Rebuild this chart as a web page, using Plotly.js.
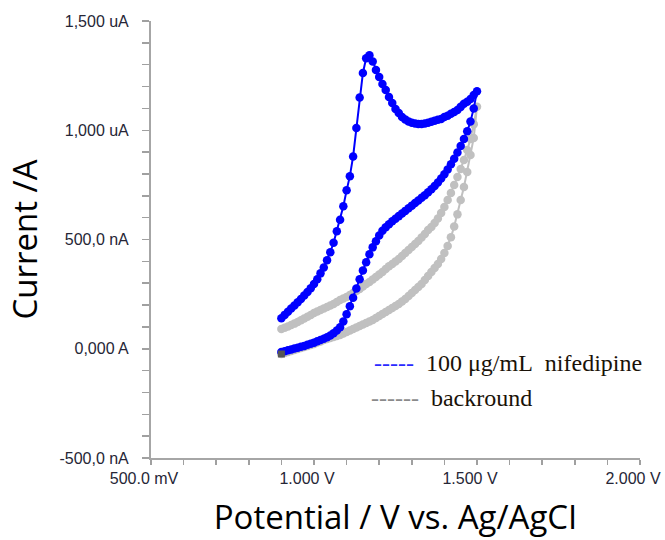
<!DOCTYPE html>
<html>
<head>
<meta charset="utf-8">
<script src="https://cdn.plot.ly/plotly-3.0.1.min.js"></script>
<style>
  html, body { margin: 0; padding: 0; background: #ffffff; }
  #chart { width: 665px; height: 540px; }
</style>
</head>
<body>
<div id="chart"></div>
<script>
// Potentials (V) – forward scan 0.90 -> 1.50 and reverse scan 1.49 -> 0.90
const potentialForward = [0.90,0.91,0.92,0.93,0.94,0.95,0.96,0.97,0.98,0.99,
  1.00,1.01,1.02,1.03,1.04,1.05,1.06,1.07,1.08,1.09,
  1.10,1.11,1.12,1.13,1.14,1.15,1.16,1.17,1.18,1.19,
  1.20,1.21,1.22,1.23,1.24,1.25,1.26,1.27,1.28,1.29,
  1.30,1.31,1.32,1.33,1.34,1.35,1.36,1.37,1.38,1.39,
  1.40,1.41,1.42,1.43,1.44,1.45,1.46,1.47,1.48,1.49,1.50];
const potentialReverse = [1.49,1.48,1.47,1.46,1.45,1.44,1.43,1.42,1.41,1.40,
  1.39,1.38,1.37,1.36,1.35,1.34,1.33,1.32,1.31,1.30,
  1.29,1.28,1.27,1.26,1.25,1.24,1.23,1.22,1.21,1.20,
  1.19,1.18,1.17,1.16,1.15,1.14,1.13,1.12,1.11,1.10,
  1.09,1.08,1.07,1.06,1.05,1.04,1.03,1.02,1.01,1.00,
  0.99,0.98,0.97,0.96,0.95,0.94,0.93,0.92,0.91,0.90];

// 100 µg/mL nifedipine (current, axis units)
const nifedipineForward = [140,155,169,184,198,213,228,244,260,277,
  296,318,345,372,405,442,485,538,590,652,
  725,790,880,1010,1150,1262,1330,1343,1315,1276,
  1244,1212,1184,1152,1125,1097,1079,1061,1049,1040,
  1034,1031,1029,1029,1031,1034,1039,1043,1048,1052,
  1061,1066,1075,1084,1093,1107,1121,1130,1143,1161,1178];
const nifedipineReverse = [1100,1040,995,960,928,898,870,844,820,799,
  779,761,745,730,716,703,691,679,667,655,
  643,631,619,607,595,583,570,556,540,518,
  492,464,432,396,358,318,276,233,195,158,
  125,98,83,71,61,53,46,40,34,28,
  23,18,13,9,5,1,-3,-7,-11,-15];

// background
const backgroundForward = [90,96,102,109,115,122,130,138,146,154,
  164,170,177,184,191,198,205,214,223,230,
  237,246,255,264,273,285,296,306,317,328,
  340,351,365,378,388,399,411,424,438,452,
  466,479,493,509,525,544,557,576,596,621,
  649,681,713,749,786,823,864,910,960,1028,1108];
const backgroundReverse = [965,887,809,740,681,615,560,510,470,438,
  411,388,370,351,333,315,296,283,269,255,
  241,228,216,205,196,187,177,168,159,150,
  141,132,125,118,111,104,97,90,84,77,
  70,63,58,54,49,45,40,33,29,22,
  17,13,8,3,-1,-6,-10,-15,-19,-24];

// axis ticks
const xTickVals = [0.5,0.6,0.7,0.8,0.9,1.0,1.1,1.2,1.3,1.4,1.5,1.6,1.7,1.8,1.9,2.0];
const xTickText = ['500.0 mV','','','','','1.000 V','','','','','1.500 V','','','','','2.000 V'];
const yTickVals = [-500,-400,-300,-200,-100,0,100,200,300,400,500,600,700,800,900,1000,1100,1200,1300,1400,1500];
const yTickText = ['-500,0 nA','','','','','0,000 A','','','','','500,0 nA','','','','','1,000 uA','','','','','1,500 uA'];

const seriesNames = ['100 \u03bcg/mL\u00a0\u00a0nifedipine', 'backround'];

const allPotential = potentialForward.concat(potentialReverse);

const bgTrace = {
  x: allPotential,
  y: backgroundForward.concat(backgroundReverse),
  mode: 'lines+markers',
  name: seriesNames[1],
  line: { color: '#c0c0c0', width: 2 },
  marker: { color: '#c0c0c0', size: 8.5, symbol: 'circle' },
  showlegend: false
};
const nifTrace = {
  x: allPotential,
  y: nifedipineForward.concat(nifedipineReverse),
  mode: 'lines+markers',
  name: seriesNames[0],
  line: { color: '#0000ff', width: 2 },
  marker: { color: '#0000ff', size: 8.5, symbol: 'circle' },
  showlegend: false
};
// end-of-scan marker (last background point)
const endTrace = {
  x: [potentialReverse[potentialReverse.length - 1]],
  y: [backgroundReverse[backgroundReverse.length - 1]],
  mode: 'markers',
  marker: { color: '#555555', size: 7, symbol: 'square' },
  showlegend: false
};

const tickFont = { family: 'Liberation Sans, Arial, sans-serif', size: 16, color: '#262636' };
const titleFont = { family: 'Open Sans, sans-serif', size: 33, color: '#000000' };
const legendFont = { family: 'Liberation Serif, Times New Roman, serif', size: 24, color: '#1a1208' };

const layout = {
  width: 665, height: 540,
  margin: { l: 151, r: 25, t: 21, b: 82, pad: 0 },
  paper_bgcolor: '#ffffff', plot_bgcolor: '#ffffff',
  showlegend: false,
  xaxis: {
    range: [0.5, 2.0],
    tickmode: 'array', tickvals: xTickVals, ticktext: xTickText,
    ticks: 'outside', ticklen: 5, tickwidth: 1.5, tickcolor: '#a0a0a0',
    showline: true, linecolor: '#a6a6a6', linewidth: 2,
    showgrid: false, zeroline: false,
    tickfont: tickFont, ticklabelshift: -7,
    title: { text: 'Potential / V vs. Ag/AgCI', font: titleFont, standoff: 20 },
    automargin: false
  },
  yaxis: {
    range: [-500, 1500],
    tickmode: 'array', tickvals: yTickVals, ticktext: yTickText,
    ticks: 'outside', ticklen: 7, tickwidth: 1.5, tickcolor: '#a0a0a0',
    showline: true, linecolor: '#a6a6a6', linewidth: 2,
    showgrid: false, zeroline: false,
    tickfont: tickFont, ticklabelstandoff: 10,
    title: { text: 'Current /A', font: titleFont, standoff: 12 },
    automargin: false
  },
  annotations: [
    {
      xref: 'paper', yref: 'paper', x: 0.452, y: 0.2174,
      xanchor: 'left', yanchor: 'middle', showarrow: false,
      text: '<span style="color:#2a2aff">-----</span>\u00a0\u00a0' + seriesNames[0],
      font: legendFont
    },
    {
      xref: 'paper', yref: 'paper', x: 0.4458, y: 0.1373,
      xanchor: 'left', yanchor: 'middle', showarrow: false,
      text: '<span style="color:#8a8a8a">------</span>\u00a0\u00a0' + seriesNames[1],
      font: legendFont
    }
  ]
};

Plotly.newPlot('chart', [bgTrace, nifTrace, endTrace], layout, { displayModeBar: false, staticPlot: true });
</script>
</body>
</html>
